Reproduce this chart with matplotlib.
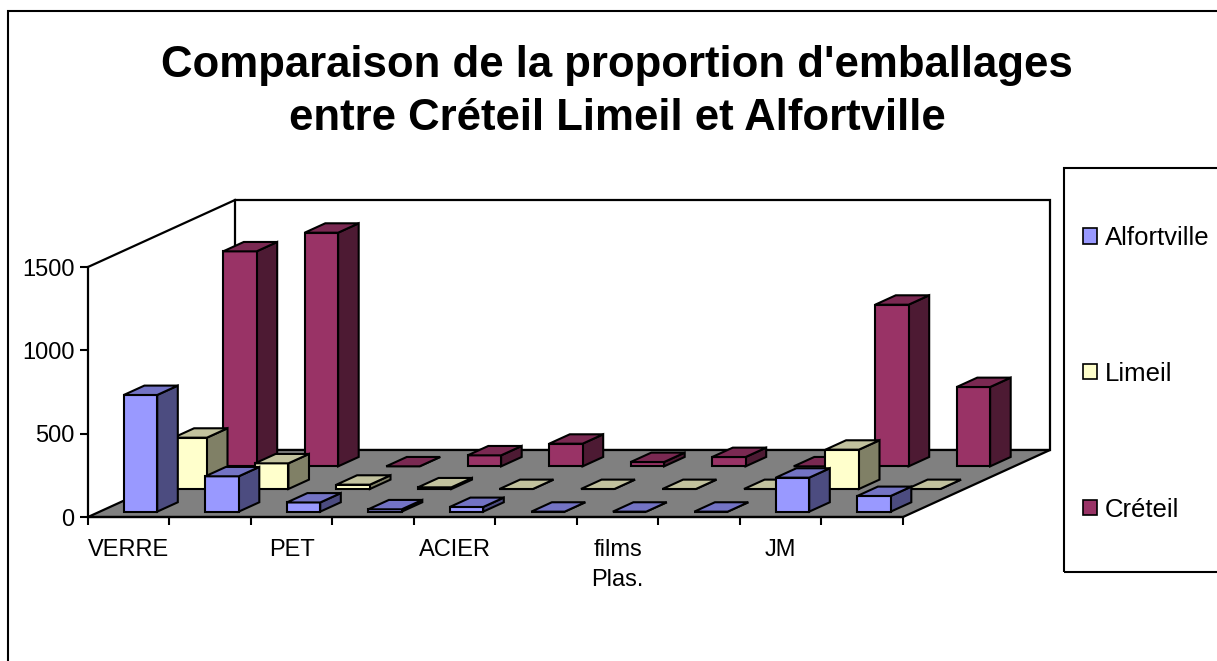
import numpy as np
import matplotlib.pyplot as plt
from matplotlib.patches import Polygon, Rectangle, Patch

plt.rcParams['font.family'] = ['Liberation Sans', 'DejaVu Sans']

# data
categories = ['VERRE', '', 'PET', '', 'ACIER', '', 'films\nPlas.', '', 'JM', '']
series = ['Alfortville', 'Limeil', 'Créteil']
alfortville = [700, 212, 55, 14, 28, 0, 0, 0, 204, 94]
limeil = [308, 154, 26, 10, 0, 0, 0, 0, 236, 0]
creteil = [1290, 1402, 0, 66, 136, 26, 56, 0, 970, 476]
yticks = [0, 500, 1000, 1500]

# front, top, side shades (excel style)
colors = [('#9999FF', '#7373C4', '#4C4C80'),
          ('#FFFFCC', '#C2C29E', '#808066'),
          ('#993366', '#7A2952', '#4D1A33')]

# oblique depth: full depth shift in data units
DX = 1.804
DY = 402
ymax = 1500
ncat = len(categories)

def proj(x, v, d):
    return (x + DX * d, v + DY * d)

fig = plt.figure(figsize=(12.17, 6.61), dpi=100)
ax = fig.add_axes([0, 0, 1, 1])
ax.set_facecolor('none')
ax.set_xlim(-88 / 81.5, (1217 - 88) / 81.5)
ax.set_ylim(-144 / (250 / 1500), (661 - 144) / (250 / 1500))

# floor and walls
floor = [proj(0, 0, 0), proj(ncat, 0, 0), proj(ncat, 0, 1), proj(0, 0, 1)]
ax.add_patch(Polygon(floor, closed=True, facecolor='#808080', edgecolor='black', lw=1.6, zorder=1))
wall = [proj(0, 0, 1), proj(ncat, 0, 1), proj(ncat, ymax, 1), proj(0, ymax, 1)]
ax.add_patch(Polygon(wall, closed=True, facecolor='white', edgecolor='black', lw=1.6, zorder=0.5))
p0 = proj(0, ymax, 0)
p1 = proj(0, ymax, 1)
ax.plot([p0[0], p1[0]], [p0[1], p1[1]], color='black', lw=1.6, zorder=1)

# bars, back row first
values = [alfortville, limeil, creteil]
bw = 0.41
bd = 0.14
for j in [2, 1, 0]:
    front_c, top_c, side_c = colors[j]
    d0 = 0.08 + j * 0.338
    d1 = d0 + bd
    for i, v in enumerate(values[j]):
        x0 = i + 0.295
        x1 = x0 + bw
        side = [proj(x1, 0, d0), proj(x1, 0, d1), proj(x1, v, d1), proj(x1, v, d0)]
        front = [proj(x0, 0, d0), proj(x1, 0, d0), proj(x1, v, d0), proj(x0, v, d0)]
        top = [proj(x0, v, d0), proj(x1, v, d0), proj(x1, v, d1), proj(x0, v, d1)]
        for poly, c in [(side, side_c), (front, front_c), (top, top_c)]:
            ax.add_patch(Polygon(poly, closed=True, facecolor=c, edgecolor='black',
                                 lw=1.5, joinstyle='miter', zorder=3 + (2 - j)))

# axes
for s in ['top', 'right']:
    ax.spines[s].set_visible(False)
ax.spines['left'].set_position(('data', 0))
ax.spines['left'].set_bounds(0, ymax)
ax.spines['bottom'].set_position(('data', 0))
ax.spines['bottom'].set_bounds(0, ncat)
ax.spines['left'].set_linewidth(1.6)
ax.spines['bottom'].set_linewidth(1.6)

ax.set_yticks(yticks)
ax.tick_params(axis='y', direction='out', length=5.8, width=1.5, pad=4, labelsize=17)
ax.set_xticks(np.arange(ncat + 1))
ax.set_xticklabels([])
ax.set_xticks(np.arange(ncat) + 0.5, minor=True)
ax.set_xticklabels(categories, minor=True, fontsize=17)
for lab in ax.get_xticklabels(minor=True):
    lab.set_linespacing(1.45)
ax.tick_params(axis='x', which='major', direction='out', length=5.8, width=1.5)
ax.tick_params(axis='x', which='minor', length=0, pad=16)

# title
fig.text(0.507, 1 - 92 / 661, "Comparaison de la proportion d'emballages\nentre Créteil Limeil et Alfortville",
         ha='center', va='center', fontsize=31.5, fontweight='bold', linespacing=1.4)

# legend
handles = [Patch(facecolor=colors[k][0], edgecolor='black', lw=1.2) for k in range(3)]
ax.legend(handles, series, loc='upper left', bbox_to_anchor=(1083 / 1217, 1 - 226 / 661),
          bbox_transform=fig.transFigure, frameon=False, fontsize=18.5,
          handlelength=0.55, handleheight=0.55, handletextpad=0.3,
          labelspacing=4.35, borderpad=0, borderaxespad=0)
fig.add_artist(Rectangle((1064 / 1217, 1 - 572 / 661), 0.2, (572 - 168) / 661,
                         transform=fig.transFigure, fill=False, edgecolor='black', lw=1.5))

# outer chart border
fig.add_artist(Rectangle((8 / 1217, -0.05), 1.0, 1 - 10.5 / 661 + 0.05,
                         transform=fig.transFigure, fill=False, edgecolor='black', lw=1.5))

fig.savefig('out.png', dpi=100)
